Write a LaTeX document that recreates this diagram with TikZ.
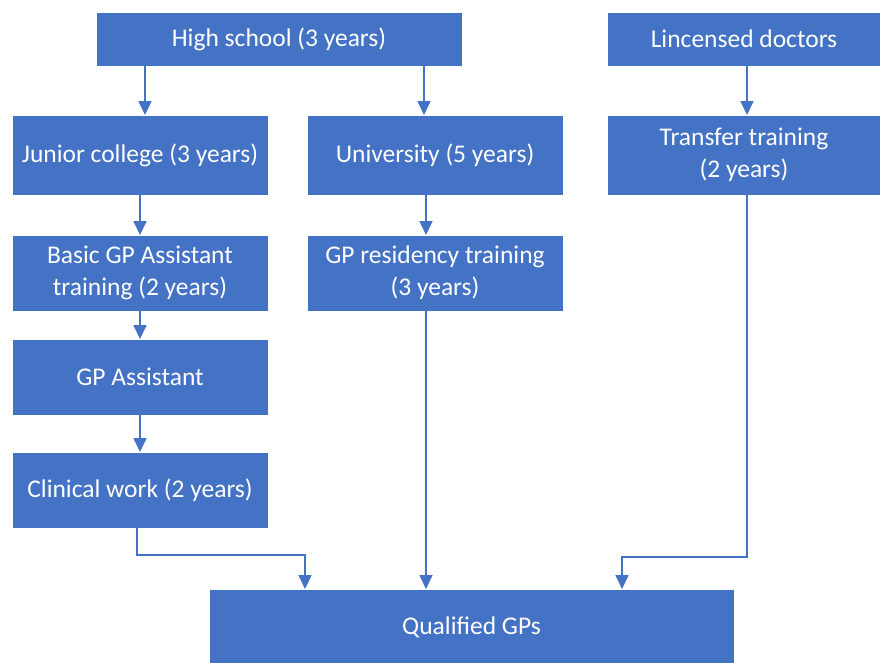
\documentclass[tikz,border=0pt]{standalone}
\usepackage{fontspec}
\setmainfont{Carlito}
\usetikzlibrary{arrows.meta}
\definecolor{boxblue}{HTML}{4472C4}
\begin{document}
\begin{tikzpicture}[x=1pt,y=-1pt,
  stagebox/.style={fill=boxblue,draw=white,line width=0.6pt,inner sep=0pt,outer sep=0pt,
    text=white,font=\fontsize{25.5}{32}\selectfont,align=center},
  flow/.style={draw=boxblue,line width=1.6pt,-{Triangle[width=13pt,length=14pt]}}]
\useasboundingbox (0,0) rectangle (880,662);
% stages of training
\node[stagebox,minimum width=366pt,minimum height=54pt] (hs) at (279,39) {High school (3 years)};
\node[stagebox,minimum width=274pt,minimum height=54pt] (ld) at (744,39) {Lincensed doctors};
\node[stagebox,minimum width=256pt,minimum height=80pt] (jc) at (140,155) {Junior college (3 years)};
\node[stagebox,minimum width=256pt,minimum height=80pt] (uni) at (435,155) {University (5 years)};
\node[stagebox,minimum width=274pt,minimum height=80pt] (tt) at (744,155) {Transfer training\\(2 years)};
\node[stagebox,minimum width=256pt,minimum height=76pt] (basic) at (140,273) {Basic GP Assistant\\training (2 years)};
\node[stagebox,minimum width=256pt,minimum height=76pt] (res) at (435,273) {GP residency training\\(3 years)};
\node[stagebox,minimum width=256pt,minimum height=76pt] (asst) at (140,377) {GP Assistant};
\node[stagebox,minimum width=256pt,minimum height=76pt] (clin) at (140,490) {Clinical work (2 years)};
\node[stagebox,minimum width=525pt,minimum height=76pt] (gp) at (471.5,627) {Qualified GPs};
% bend points of the merging connectors
\coordinate (clinbend) at (137,555);
\coordinate (ttbend) at (747,557);
% connectors
\draw[flow] (hs.south -| 145,0) -- (jc.north -| 145,0);
\draw[flow] ([yshift=2pt]hs.south -| 424,0) -- (uni.north -| 424,0);
\draw[flow] (ld.south -| 747,0) -- (tt.north -| 747,0);
\draw[flow] (jc.south -| 140,0) -- (basic.north -| 140,0);
\draw[flow] (uni.south -| 426,0) -- (res.north -| 426,0);
\draw[flow] (basic.south -| 140,0) -- (asst.north -| 140,0);
\draw[flow] (asst.south -| 140,0) -- (clin.north -| 140,0);
\draw[flow] (clin.south -| clinbend) -- (clinbend) -- (clinbend -| 305,0) -- (gp.north -| 305,0);
\draw[flow] (res.south -| 426,0) -- (gp.north -| 426,0);
\draw[flow] (tt.south -| ttbend) -- (ttbend) -- (ttbend -| 622,0) -- (gp.north -| 622,0);
\end{tikzpicture}
\end{document}
